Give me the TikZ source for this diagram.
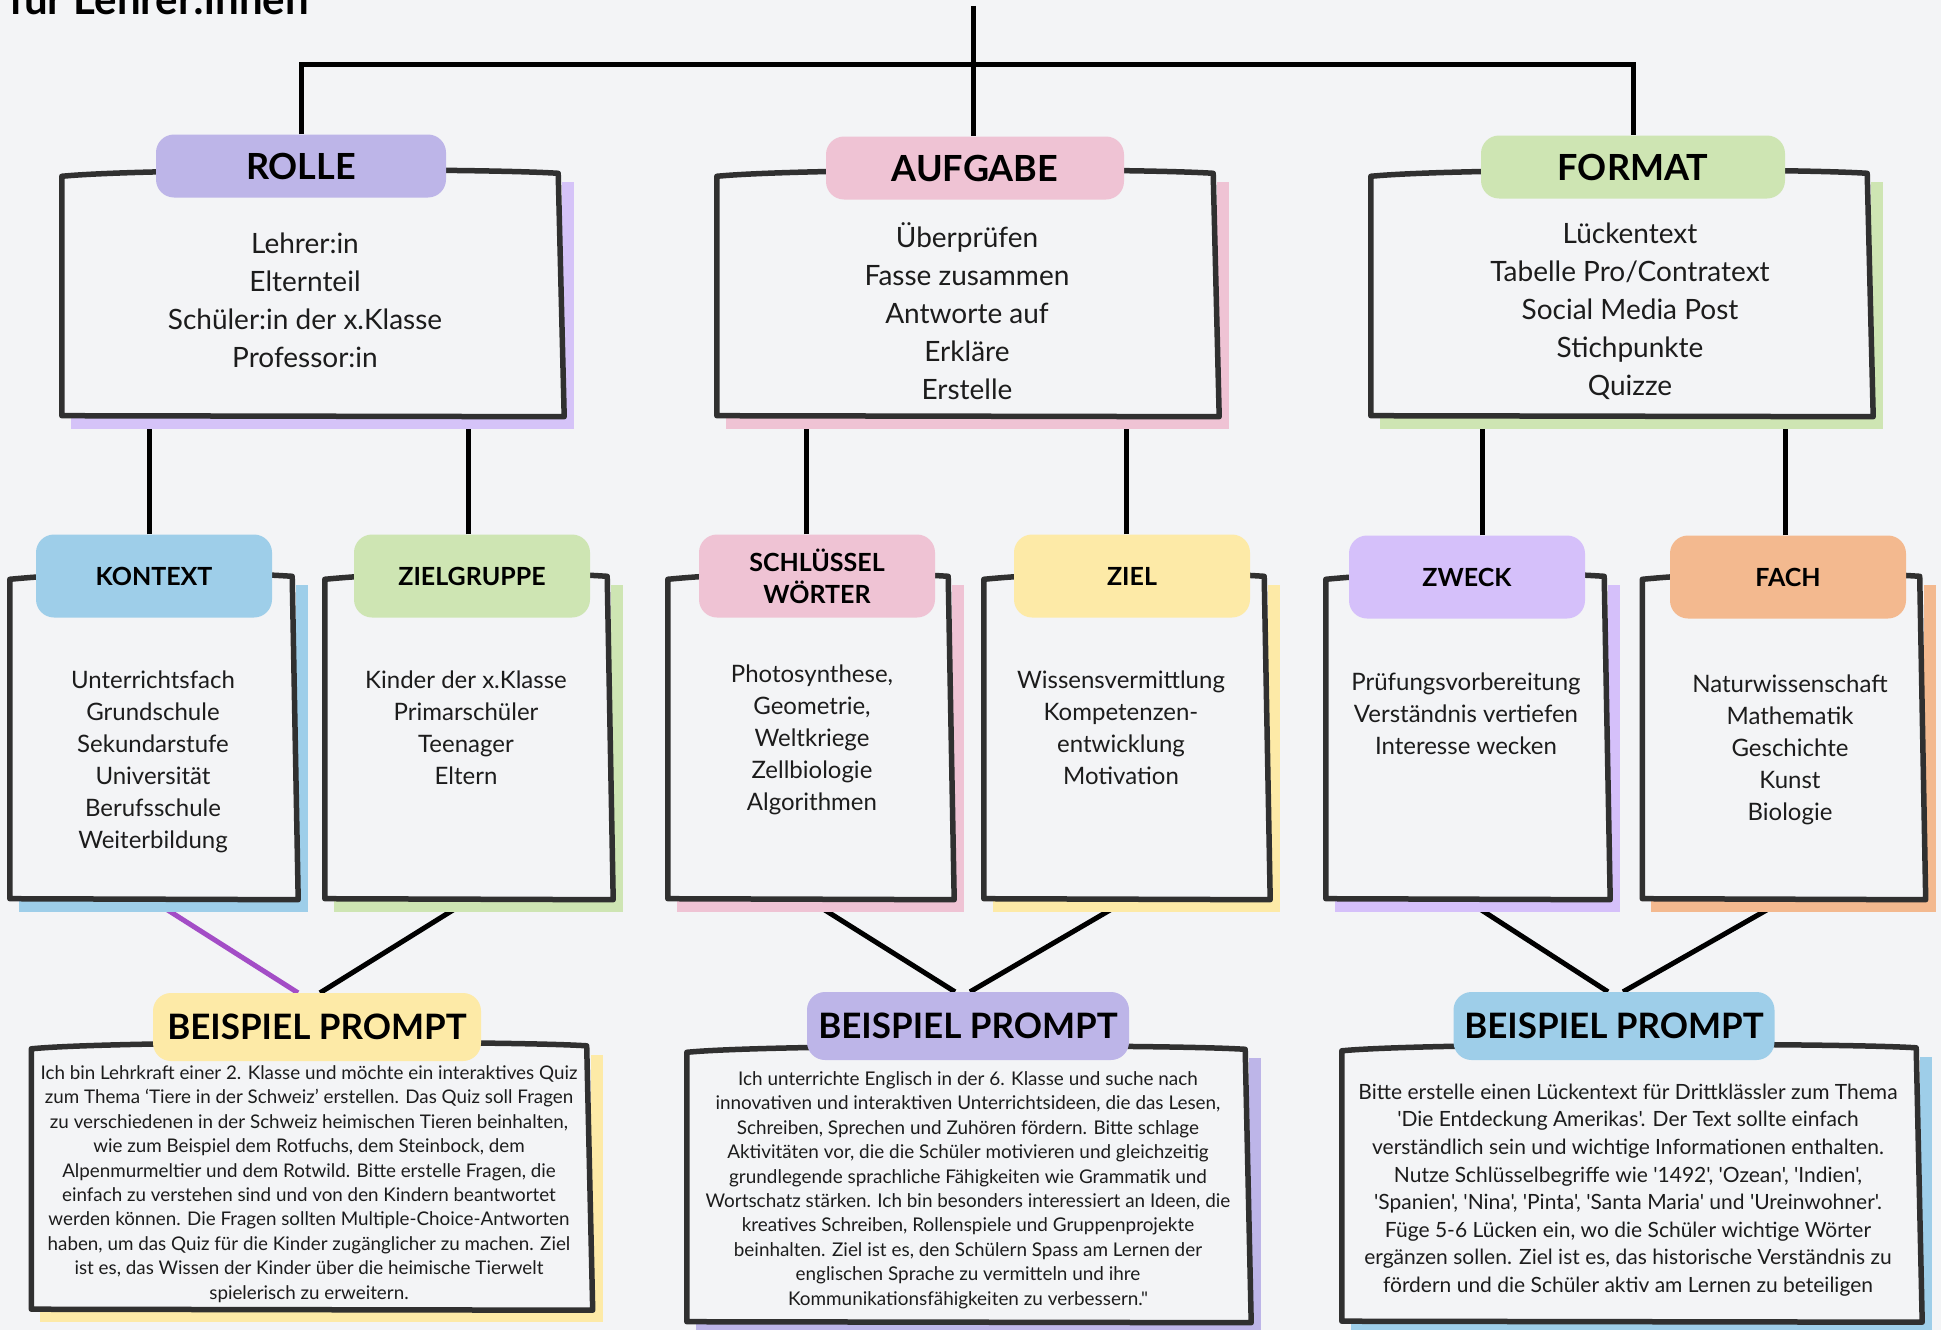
\documentclass[tikz,border=0pt]{standalone}
\usepackage{fontspec}
\setmainfont{Lato}[Ligatures=TeXOff]
\usepackage{tikz}

\definecolor{paper}{HTML}{F3F4F6}
\definecolor{ink}{HTML}{1C1C1C}
\definecolor{frameInk}{HTML}{303030}
\definecolor{lav}{HTML}{BDB5E8}
\definecolor{lavLight}{HTML}{D5C3F8}
\definecolor{rose}{HTML}{EFC3D4}
\definecolor{sage}{HTML}{CEE5B3}
\definecolor{sky}{HTML}{9ECEE9}
\definecolor{butter}{HTML}{FDEAA7}
\definecolor{lilac}{HTML}{D5C0FA}
\definecolor{peach}{HTML}{F3B98F}
\definecolor{plum}{HTML}{A34DC6}

\pgfdeclarelayer{canvas}
\pgfdeclarelayer{wires}
\pgfdeclarelayer{shade}
\pgfsetlayers{canvas,wires,shade,main}

\begin{document}
\begin{tikzpicture}[x=1pt,y=-1pt]
            \tikzstyle{every node}+=[inner sep=0pt]
            \tikzstyle{box}=[rectangle, fill=paper]
            \tikzstyle{frame}=[draw=frameInk, line width=5.5pt, line join=round, line cap=round]
            \tikzstyle{wire}=[draw=black, line width=5pt]
            \tikzstyle{tag}=[rectangle, rounded corners=18pt, text=black]
            \tikzstyle{bigtag}=[tag, minimum height=63pt, font=\bfseries\fontsize{36}{36}\selectfont]
            \tikzstyle{midtag}=[tag, minimum width=236pt, minimum height=83pt, font=\bfseries\fontsize{25}{32}\selectfont]
            \tikzstyle{prtag}=[tag, minimum height=68pt, font=\bfseries\fontsize{35}{35}\selectfont]
            \tikzstyle{list}=[align=center, text=ink]
            \useasboundingbox (0,0) rectangle (1941,1330);
            \begin{pgfonlayer}{canvas}
            \fill [paper] (0,0) rectangle (1941,1330);
            \end{pgfonlayer}
            \node [anchor=base west, font=\bfseries\fontsize{42}{42}\selectfont] (title) at (9,15) {für Lehrer:innen};
            % boxes
            \node [box, minimum width=500pt, minimum height=245pt] (rolleBox) at (312,295) {};
            \node [box, minimum width=500pt, minimum height=245pt] (aufgabeBox) at (967,295) {};
            \node [box, minimum width=500pt, minimum height=245pt] (formatBox) at (1621,295) {};
            \node [box, minimum width=286pt, minimum height=325pt] (kontextBox) at (153,738) {};
            \node [box, minimum width=286pt, minimum height=325pt] (zielgruppeBox) at (468,738) {};
            \node [box, minimum width=284pt, minimum height=325pt] (schluesselBox) at (810,738) {};
            \node [box, minimum width=284pt, minimum height=325pt] (zielBox) at (1126,738) {};
            \node [box, minimum width=282pt, minimum height=325pt] (zweckBox) at (1467,738) {};
            \node [box, minimum width=281pt, minimum height=325pt] (fachBox) at (1783,738) {};
            \node [box, minimum width=559pt, minimum height=266pt] (p1Box) at (311,1178) {};
            \node [box, minimum width=562pt, minimum height=275pt] (p2Box) at (968,1186) {};
            \node [box, minimum width=578pt, minimum height=276pt] (p3Box) at (1631,1185) {};
            \foreach \b/\c in {rolleBox/lavLight, aufgabeBox/rose, formatBox/sage, kontextBox/sky, zielgruppeBox/sage, schluesselBox/rose, zielBox/butter, zweckBox/lilac, fachBox/peach, p1Box/butter, p2Box/lav, p3Box/sky} {
                \begin{pgfonlayer}{shade}
                \fill [\c] ([xshift=9pt,yshift=-10pt]\b.north west) rectangle ([xshift=12pt,yshift=-11pt]\b.south east);
                \end{pgfonlayer}
                \draw [frame] ([yshift=-4pt]\b.north west) .. controls ([xshift=80pt,yshift=4pt]\b.north west) and ([xshift=-80pt,yshift=4pt]\b.north east) .. ([xshift=-4pt,yshift=-1pt]\b.north east) -- ([xshift=2pt,yshift=1pt]\b.south east) -- ([yshift=2pt]\b.south west) -- cycle;
            }
            % tags
            \node [bigtag, fill=lav, minimum width=290pt] (rolleTag) at (301,166) {ROLLE};
            \node [bigtag, fill=rose, minimum width=298pt] (aufgabeTag) at (975,168) {AUFGABE};
            \node [bigtag, fill=sage, minimum width=304pt] (formatTag) at (1633,167) {FORMAT};
            \node [midtag, fill=sky] (kontextTag) at (154,576) {KONTEXT};
            \node [midtag, fill=sage] (zielgruppeTag) at (472,576) {ZIELGRUPPE};
            \node [midtag, fill=rose, align=center] (schluesselTag) at (817,576) {SCHLÜSSEL\\WÖRTER};
            \node [midtag, fill=butter] (zielTag) at (1132,576) {ZIEL};
            \node [midtag, fill=lilac] (zweckTag) at (1467,577) {ZWECK};
            \node [midtag, fill=peach] (fachTag) at (1788,577) {FACH};
            \node [prtag, fill=butter, minimum width=328pt] (p1Tag) at (317,1027) {BEISPIEL PROMPT};
            \node [prtag, fill=lav, minimum width=322pt] (p2Tag) at (968,1026) {BEISPIEL PROMPT};
            \node [prtag, fill=sky, minimum width=321pt] (p3Tag) at (1614,1026) {BEISPIEL PROMPT};
            % lists
            \node [list, font=\fontsize{28}{38}\selectfont] (rolleList) at (305,300) {Lehrer:in\\Elternteil\\Schüler:in der x.Klasse\\Professor:in};
            \node [list, font=\fontsize{28}{38}\selectfont] (aufgabeList) at (967,311) {Überprüfen\\Fasse zusammen\\Antworte auf\\Erkläre\\Erstelle};
            \node [list, font=\fontsize{28}{38}\selectfont] (formatList) at (1630,311) {Lückentext\\Tabelle Pro/Contratext\\Social Media Post\\Stichpunkte\\Quizze};
            \node [list, font=\fontsize{24}{32}\selectfont] (kontextList) at (153,762) {Unterrichtsfach\\Grundschule\\Sekundarstufe\\Universität\\Berufsschule\\Weiterbildung};
            \node [list, font=\fontsize{24}{32}\selectfont] (zielgruppeList) at (466,728) {Kinder der x.Klasse\\Primarschüler\\Teenager\\Eltern};
            \node [list, font=\fontsize{24}{32}\selectfont] (schluesselList) at (812,740) {Photosynthese,\\Geometrie,\\Weltkriege\\Zellbiologie\\Algorithmen};
            \node [list, font=\fontsize{24}{32}\selectfont] (zielList) at (1121,728) {Wissensvermittlung\\Kompetenzen-\\entwicklung\\Motivation};
            \node [list, font=\fontsize{24}{32}\selectfont] (zweckList) at (1466,714) {Prüfungsvorbereitung\\Verständnis vertiefen\\Interesse wecken};
            \node [list, font=\fontsize{24}{32}\selectfont] (fachList) at (1790,750) {Naturwissenschaft\\Mathematik\\Geschichte\\Kunst\\Biologie};
            \node [list, font=\fontsize{18.8}{24.4}\selectfont] (p1Text) at (309,1184) {Ich bin Lehrkraft einer 2. Klasse und möchte ein interaktives Quiz\\zum Thema ‘Tiere in der Schweiz’ erstellen. Das Quiz soll Fragen\\zu verschiedenen in der Schweiz heimischen Tieren beinhalten,\\wie zum Beispiel dem Rotfuchs, dem Steinbock, dem\\Alpenmurmeltier und dem Rotwild. Bitte erstelle Fragen, die\\einfach zu verstehen sind und von den Kindern beantwortet\\werden können. Die Fragen sollten Multiple-Choice-Antworten\\haben, um das Quiz für die Kinder zugänglicher zu machen. Ziel\\ist es, das Wissen der Kinder über die heimische Tierwelt\\spielerisch zu erweitern.};
            \node [list, font=\fontsize{18.9}{24.4}\selectfont] (p2Text) at (968,1190) {Ich unterrichte Englisch in der 6. Klasse und suche nach\\innovativen und interaktiven Unterrichtsideen, die das Lesen,\\Schreiben, Sprechen und Zuhören fördern. Bitte schlage\\Aktivitäten vor, die die Schüler motivieren und gleichzeitig\\grundlegende sprachliche Fähigkeiten wie Grammatik und\\Wortschatz stärken. Ich bin besonders interessiert an Ideen, die\\kreatives Schreiben, Rollenspiele und Gruppenprojekte\\beinhalten. Ziel ist es, den Schülern Spass am Lernen der\\englischen Sprache zu vermitteln und ihre\\Kommunikationsfähigkeiten zu verbessern."};
            \node [list, font=\fontsize{21}{27.6}\selectfont] (p3Text) at (1628,1190) {Bitte erstelle einen Lückentext für Drittklässler zum Thema\\'Die Entdeckung Amerikas'. Der Text sollte einfach\\verständlich sein und wichtige Informationen enthalten.\\Nutze Schlüsselbegriffe wie '1492', 'Ozean', 'Indien',\\'Spanien', 'Nina', 'Pinta', 'Santa Maria' und 'Ureinwohner'.\\Füge 5-6 Lücken ein, wo die Schüler wichtige Wörter\\ergänzen sollen. Ziel ist es, das historische Verständnis zu\\fördern und die Schüler aktiv am Lernen zu beteiligen};
            % connectors
            \begin{pgfonlayer}{wires}
            \coordinate (stemTop) at (973,6);
            \coordinate (hub) at (973,65);
            \draw [wire] (stemTop) -- (stemTop |- aufgabeTag.north);
            \draw [wire] (rolleTag.north) |- (hub) -| (formatTag.north);
            \foreach \t/\b/\s in {kontextTag/rolleBox/-5pt, zielgruppeTag/rolleBox/-4pt, schluesselTag/aufgabeBox/-11pt, zielTag/aufgabeBox/-6pt, zweckTag/formatBox/15pt, fachTag/formatBox/-3pt}
                \draw [wire] ([xshift=\s]\t.north) -- ([xshift=\s]\t.north |- \b.south);
            \draw [wire, draw=plum] (kontextBox.south) -- ([xshift=-19pt]p1Tag.north);
            \draw [wire] (zielgruppeBox.south) -- ([xshift=3pt]p1Tag.north);
            \draw [wire] (schluesselBox.south) -- ([xshift=-13pt]p2Tag.north);
            \draw [wire] (zielBox.south) -- ([xshift=2pt]p2Tag.north);
            \draw [wire] (zweckBox.south) -- ([xshift=-6pt]p3Tag.north);
            \draw [wire] (fachBox.south) -- ([xshift=9pt]p3Tag.north);
            \end{pgfonlayer}
\end{tikzpicture}
\end{document}
